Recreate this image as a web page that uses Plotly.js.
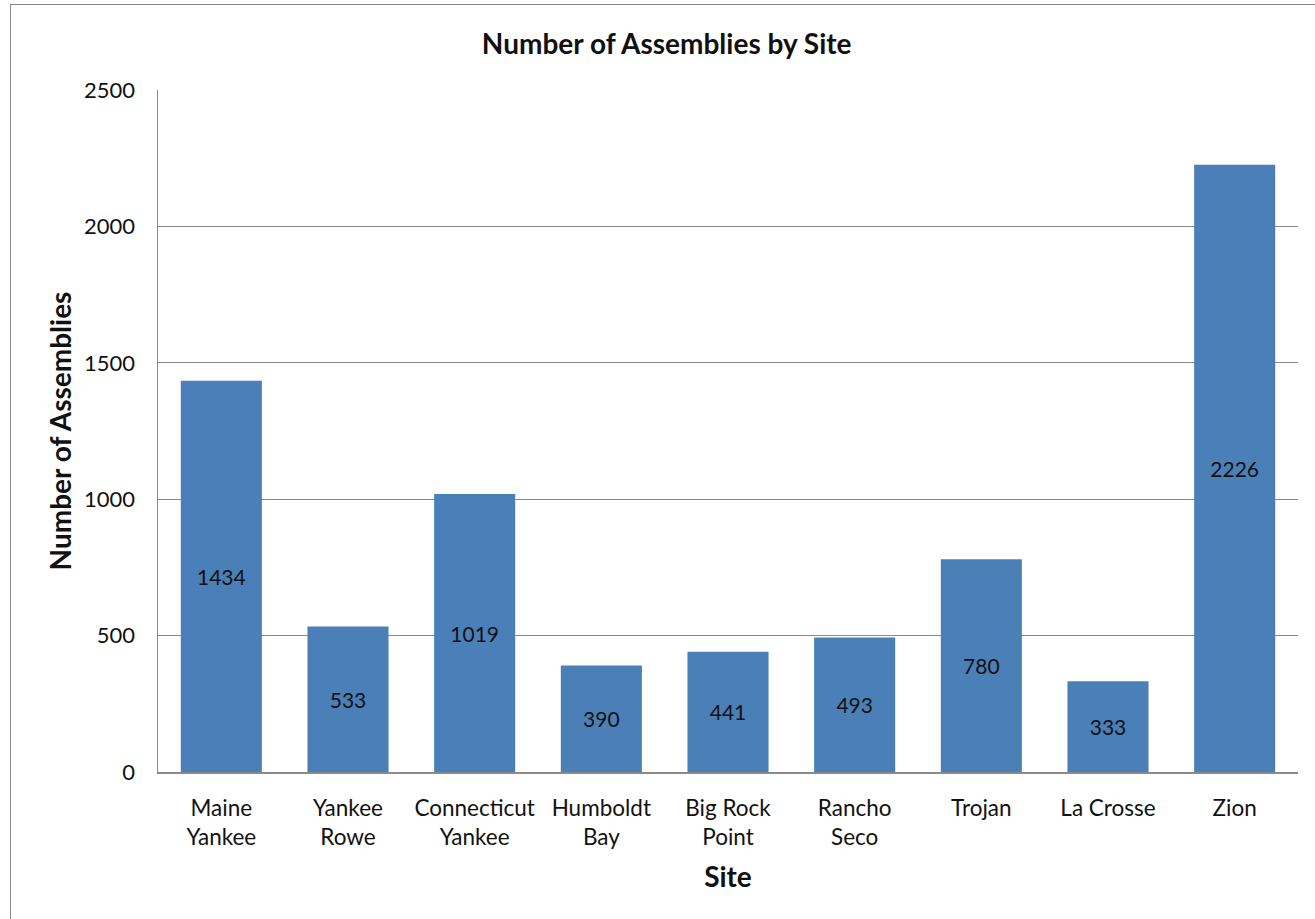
<!DOCTYPE html>
<html>
<head>
<meta charset="utf-8">
<script src="https://cdn.plot.ly/plotly-3.0.1.min.js"></script>
<style>
  html, body { margin: 0; padding: 0; background: #fff; overflow: hidden; }
  #chart { width: 1315px; height: 919px; }
  #frame { position: absolute; left: 10px; top: 4px; width: 1340px; height: 960px;
           border: 1.5px solid #8a8a8a; pointer-events: none; box-sizing: border-box; }
</style>
</head>
<body>
<div id="chart"></div>
<div id="frame"></div>
<script>
const sites = ["Maine<br>Yankee", "Yankee<br>Rowe", "Connecticut<br>Yankee", "Humboldt<br>Bay",
               "Big Rock<br>Point", "Rancho<br>Seco", "Trojan", "La Crosse", "Zion"];
const assemblies = [1434, 533, 1019, 390, 441, 493, 780, 333, 2226];
const yTicks = [0, 500, 1000, 1500, 2000, 2500];

const FONT = "Lato, 'Open Sans', sans-serif";

const trace = {
  type: "bar",
  x: sites,
  y: assemblies,
  text: assemblies.map(String),
  textposition: "inside",
  insidetextanchor: "middle",
  textangle: 0,
  constraintext: "none",
  insidetextfont: { family: FONT, size: 21, color: "#111" },
  marker: { color: "#4a7fb7", line: { width: 0 } },
  hoverinfo: "x+y"
};

const layout = {
  width: 1315, height: 919,
  margin: { l: 158, r: 17, t: 90, b: 147 },
  paper_bgcolor: "rgba(0,0,0,0)",
  plot_bgcolor: "#fff",
  bargap: 0.36,
  showlegend: false,
  font: { family: FONT, color: "#111" },
  title: {
    text: "<b>Number of Assemblies by Site</b>",
    font: { family: FONT, size: 28, color: "#111" },
    xref: "container", x: 0.507, xanchor: "center",
    yref: "container", y: 1 - 44/919, yanchor: "middle"
  },
  xaxis: {
    type: "category",
    showgrid: false,
    showline: true, linecolor: "#8a8a8a", linewidth: 1.5,
    ticks: "",
    ticklabelstandoff: 15,
    tickfont: { family: FONT, size: 22.5, color: "#111" },
    title: { text: "<b>Site</b>", font: { family: FONT, size: 28, color: "#111" }, standoff: 18 }
  },
  yaxis: {
    range: [0, 2500],
    tickvals: yTicks,
    ticktext: yTicks.map(String),
    showgrid: true, gridcolor: "#8a8a8a", gridwidth: 1,
    zeroline: false,
    showline: true, linecolor: "#8a8a8a", linewidth: 1.5,
    ticks: "",
    ticklabelstandoff: 17,
    tickfont: { family: FONT, size: 22, color: "#111" },
    title: { text: "<b>Number of Assemblies</b>", font: { family: FONT, size: 28, color: "#111" }, standoff: 4 }
  }
};

Plotly.newPlot("chart", [trace], layout, { displayModeBar: false, staticPlot: true });
</script>
</body>
</html>
